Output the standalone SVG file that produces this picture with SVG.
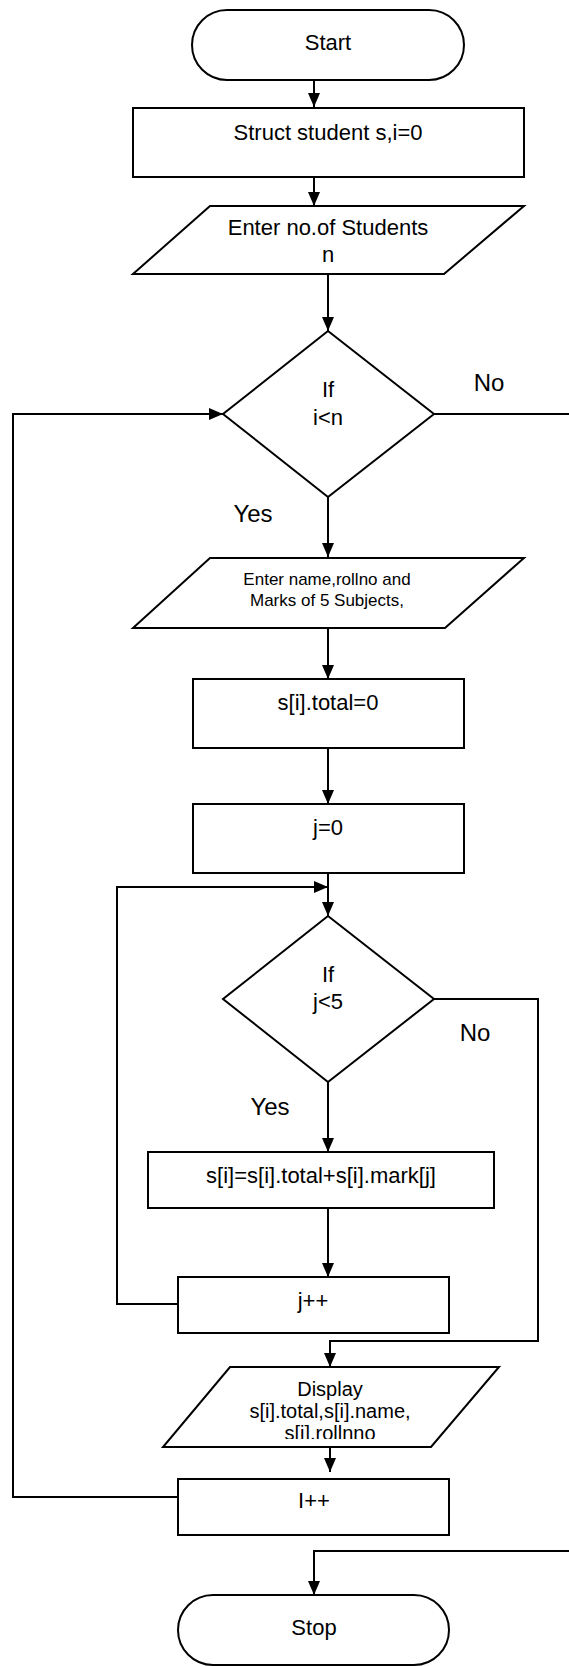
<svg xmlns="http://www.w3.org/2000/svg" width="569" height="1666" viewBox="0 0 569 1666">
<style>
.s{fill:#fff;stroke:#000;stroke-width:2}
.c{fill:none;stroke:#000;stroke-width:2}
text{font-family:"Liberation Sans",Arial,sans-serif;fill:#000;text-anchor:middle}
.t{font-size:22px}
.m{font-size:17px}
.d{font-size:20px}
.l{font-size:24px}
</style>
<defs>
<marker id="ah" markerUnits="userSpaceOnUse" markerWidth="14" markerHeight="12" refX="14" refY="6" orient="auto">
<path d="M0,0 L14,6 L0,12 z" fill="#000"/>
</marker>
<clipPath id="clipD"><rect x="150" y="1368" width="360" height="71"/></clipPath>
</defs>
<rect width="569" height="1666" fill="#fff"/>
<g id="connectors">
<line class="c" x1="314" y1="80" x2="314" y2="107" marker-end="url(#ah)"/>
<line class="c" x1="314" y1="177" x2="314" y2="206" marker-end="url(#ah)"/>
<line class="c" x1="328" y1="274" x2="328" y2="331" marker-end="url(#ah)"/>
<polyline class="c" points="434,414 569,414"/>
<polyline class="c" points="178,1497 13,1497 13,414 223,414" marker-end="url(#ah)"/>
<line class="c" x1="328" y1="497" x2="328" y2="557" marker-end="url(#ah)"/>
<line class="c" x1="328" y1="628" x2="328" y2="679" marker-end="url(#ah)"/>
<line class="c" x1="328" y1="748" x2="328" y2="804" marker-end="url(#ah)"/>
<line class="c" x1="328" y1="873" x2="328" y2="916" marker-end="url(#ah)"/>
<polyline class="c" points="178,1304 117,1304 117,887 328,887" marker-end="url(#ah)"/>
<polyline class="c" points="434,999 538,999 538,1341 330,1341 330,1367" marker-end="url(#ah)"/>
<line class="c" x1="328" y1="1082" x2="328" y2="1152" marker-end="url(#ah)"/>
<line class="c" x1="328" y1="1208" x2="328" y2="1277" marker-end="url(#ah)"/>
<line class="c" x1="330" y1="1447" x2="330" y2="1472" marker-end="url(#ah)"/>
<polyline class="c" points="569,1551 314,1551 314,1595" marker-end="url(#ah)"/>
<text class="l" x="489" y="391">No</text>
<text class="l" x="253" y="522">Yes</text>
<text class="l" x="475" y="1041">No</text>
<text class="l" x="270" y="1115">Yes</text>
</g>
<g id="start">
<rect class="s" x="192" y="10" width="272" height="70" rx="35" ry="35"/>
<text class="t" x="328" y="50">Start</text>
</g>
<g id="init">
<rect class="s" x="133" y="108" width="391" height="69"/>
<text class="t" x="328" y="140">Struct student s,i=0</text>
</g>
<g id="input-n">
<polygon class="s" points="210,206 524,206 444,274 133,274"/>
<text class="t" x="328" y="235">Enter no.of Students</text>
<text class="t" x="328" y="262">n</text>
</g>
<g id="cond-i">
<polygon class="s" points="328,331 434,414 328,497 223,414"/>
<text class="t" x="328" y="397">If</text>
<text class="t" x="328" y="425">i&lt;n</text>
</g>
<g id="input-student">
<polygon class="s" points="210,558 524,558 445,628 133,628"/>
<text class="m" x="327" y="585">Enter name,rollno and</text>
<text class="m" x="327" y="606">Marks of 5 Subjects,</text>
</g>
<g id="total-init">
<rect class="s" x="193" y="679" width="271" height="69"/>
<text class="t" x="328" y="710">s[i].total=0</text>
</g>
<g id="j-init">
<rect class="s" x="193" y="804" width="271" height="69"/>
<text class="t" x="328" y="835">j=0</text>
</g>
<g id="cond-j">
<polygon class="s" points="328,916 434,999 328,1082 223,999"/>
<text class="t" x="328" y="982">If</text>
<text class="t" x="328" y="1009">j&lt;5</text>
</g>
<g id="sum">
<rect class="s" x="148" y="1152" width="346" height="56"/>
<text class="t" x="321" y="1183">s[i]=s[i].total+s[i].mark[j]</text>
</g>
<g id="j-inc">
<rect class="s" x="178" y="1277" width="271" height="56"/>
<text class="t" x="313" y="1308">j++</text>
</g>
<g id="display">
<polygon class="s" points="230,1367 499,1367 431,1447 163,1447"/>
<g clip-path="url(#clipD)">
<text class="d" x="330" y="1396">Display</text>
<text class="d" x="330" y="1418">s[i].total,s[i].name,</text>
<text class="d" x="330" y="1440">s[i].rollnno</text>
</g>
</g>
<g id="i-inc">
<rect class="s" x="178" y="1479" width="271" height="56"/>
<text class="t" x="314" y="1508">I++</text>
</g>
<g id="stop">
<rect class="s" x="178" y="1595" width="271" height="70" rx="35" ry="35"/>
<text class="t" x="314" y="1635">Stop</text>
</g>
</svg>
